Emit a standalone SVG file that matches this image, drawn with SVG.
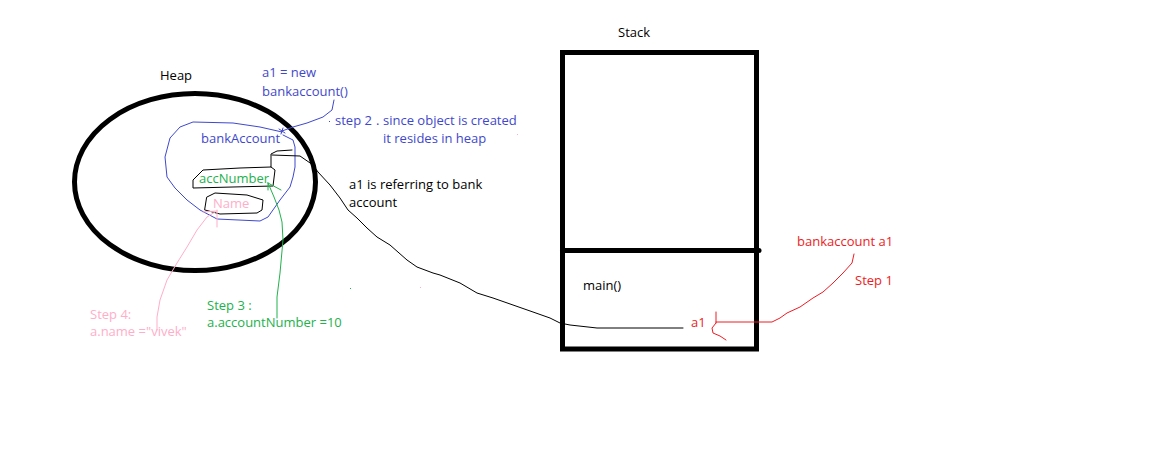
<svg xmlns="http://www.w3.org/2000/svg" width="1172" height="460" viewBox="0 0 1172 460">
<style>
text{font-family:"Open Sans","Liberation Sans",sans-serif;font-size:13px}
.k{fill:#000}.b{fill:#3F48CC}.g{fill:#22B14C}.p{fill:#FFAEC9}.r{fill:#ED1C24}
.thick{fill:none;stroke:#000;stroke-width:5}
.thin{fill:none;stroke-width:1;stroke-linejoin:round;stroke-linecap:round}
</style>
<rect width="1172" height="460" fill="#fff"/>
<g id="heap">
<ellipse class="thick" cx="195" cy="182" rx="120.5" ry="88.5"/>
<text class="k" x="160" y="80">Heap</text>
</g>
<g id="bankAccount">
<path class="thin" stroke="#3F48CC" d="M283,135 L287,137 293,140 295,147 295,167 293,177 290,187 280,200 268,217 260,221 217,219 200,210 187,200 175,188 167,177 165,157 170,138 180,127 193,122 233,123 260,127 282,132"/>
<text class="b" x="201" y="143">bankAccount</text>
</g>
<g id="accNumber">
<path class="thin" stroke="#000" d="M292,150 L277,151 271,154 271,167 240,168 203,170 193,180 193,188 273,186 275,170 271,167"/>
<text class="g" x="199" y="183">accNumber</text>
</g>
<g id="name">
<path class="thin" stroke="#000" d="M207,197 L215,193 247,195 263,200 262,210 257,213 220,214 205,210 Z"/>
<text class="p" x="213" y="208">Name</text>
</g>
<g id="stack">
<rect class="thick" x="562.5" y="52.5" width="194" height="296.5"/>
<line x1="562.5" y1="250.5" x2="759" y2="250.5" stroke="#000" stroke-width="5" stroke-linecap="round"/>
<text class="k" x="618" y="37">Stack</text>
<text class="k" x="583" y="290">main()</text>
<text class="r" x="691" y="327">a1</text>
</g>
<g id="labels">
<text class="b" x="262" y="77">a1 = new</text>
<text class="b" x="262" y="96">bankaccount()</text>
<text class="b" x="335" y="125">step 2</text>
<text class="b" x="376" y="125">.</text>
<text class="b" x="383" y="125">since object is created</text>
<text class="b" x="383" y="143">it resides in heap</text>
<text class="k" x="349" y="189">a1 is referring to bank</text>
<text class="k" x="349" y="207">account</text>
<text class="g" x="207" y="310">Step 3 :</text>
<text class="g" x="207" y="327">a.accountNumber =10</text>
<text class="p" x="90" y="319">Step 4:</text>
<text class="p" x="90" y="336">a.name ="vivek"</text>
<text class="r" x="797" y="246">bankaccount a1</text>
<text class="r" x="855" y="285">Step 1</text>
</g>
<g id="connectors">
<path class="thin" stroke="#3F48CC" d="M334,100 L332,110 323,117 307,123 293,127 282,131 M279,129 L285,133 M283,128 L281,134"/>
<path class="thin" stroke="#000" d="M272,155 L300,156 313,165 318,172 330,185 340,198 348,210 357,218 367,228 377,237 390,245 407,260 417,267 433,273 440,275 460,283 477,293 493,298 513,305 533,312 550,318 560,323 570,325 597,328 683,328"/>
<path class="thin" stroke="#22B14C" d="M277,318 L277,297 280,273 283,240 282,222 279,210 274,197 268,183 M268,183 L281,190 M268,183 L268,190"/>
<path class="thin" stroke="#FFAEC9" d="M157,330 L157,317 160,300 167,280 177,263 187,247 197,230 207,217 215,212 M203,212 L217,211 M217,210 L217,227"/>
<path class="thin" stroke="#ED1C24" d="M854,254 L852,263 843,273 833,283 823,292 813,298 800,307 787,313 780,318 772,322 740,322 716,322 M716,312 L716,323 M716,323 L712,328 713,333 720,336 726,340"/>
<rect x="329" y="121" width="1" height="1" fill="#3F48CC"/>
<rect x="350" y="288" width="1" height="1" fill="#22B14C"/>
<rect x="420" y="287" width="1" height="1" fill="#FFAEC9"/>
<rect x="517" y="134" width="1" height="1" fill="#FFAEC9"/>
</g>
</svg>
